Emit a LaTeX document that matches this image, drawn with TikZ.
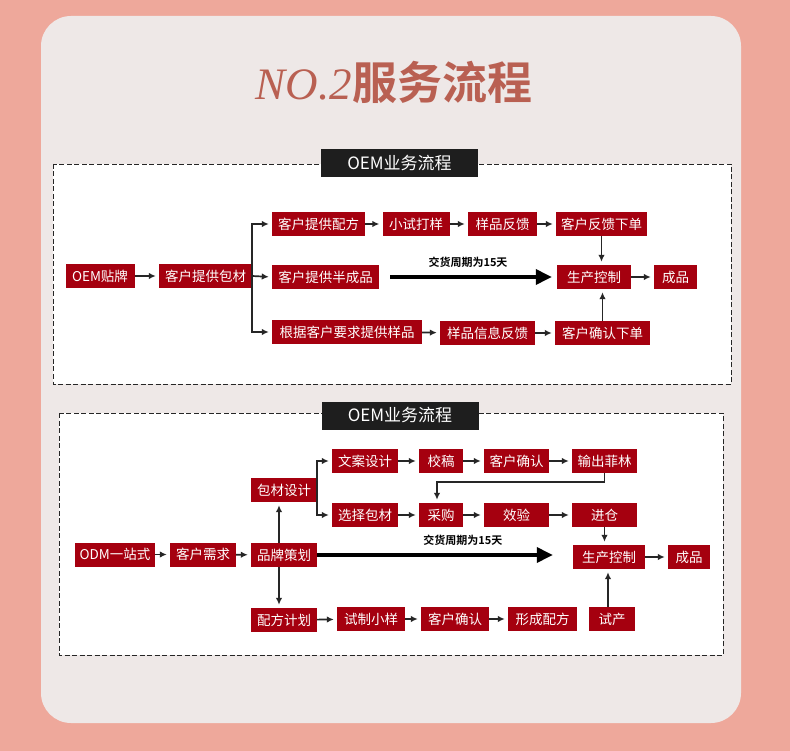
\documentclass[tikz,border=0pt]{standalone}
\usepackage{fontspec}
\usepackage{xcolor}
\setmainfont{Noto Sans CJK SC}[BoldFont={Noto Sans CJK SC Bold}]
\newfontfamily\romanit{Liberation Serif}
\usetikzlibrary{arrows.meta}
\definecolor{bgpink}{HTML}{EEA89B}
\definecolor{cardgrey}{HTML}{EEE8E7}
\definecolor{boxred}{HTML}{A5000F}
\definecolor{titlered}{HTML}{B96052}
\definecolor{tabblack}{HTML}{1E1E1E}

\begin{document}
\begin{tikzpicture}[x=1pt, y=-1pt,
  box/.style={fill=boxred, text=white, inner sep=0pt, minimum height=24pt, minimum width=#1,
    font=\fontsize{13.5}{14}\selectfont},
  box/.default=66pt,
  ln/.style={line width=1.7pt, draw=black!85, -{Latex[length=7pt,width=6.5pt]}, shorten >=3pt},
  big/.style={line width=3.5pt, -{Triangle[length=16pt,width=15pt]}},
  panel/.style={draw=black!85, line width=0.9pt, dash pattern=on 5pt off 2.5pt, fill=white},
  tab/.style={fill=tabblack, text=white, inner sep=0pt, minimum width=157pt, minimum height=28pt,
    font=\fontsize{17}{18}\selectfont},
  days/.style={font=\bfseries\fontsize{11}{12}\selectfont, above=4pt}]
  \fill[bgpink] (0,0) rectangle (790,751);
  \fill[cardgrey, rounded corners=30pt] (41,16) rectangle (741,723);
  \node[text=titlered, font=\fontsize{45}{50}\selectfont] (T) at (394,82)
    {{\romanit\itshape NO.2}{\bfseries 服务流程}};

  % OEM
  \draw[panel] (53,164) rectangle (731,384);
  \node[tab] (T1) at (399.5,163) {OEM业务流程};
  \node[box=69pt] (OEM) at (100,276) {OEM贴牌};
  \node[box=93pt] (BC) at (205.5,276) {客户提供包材};
  \node[box=93pt] (PF) at (318.5,224) {客户提供配方};
  \node[box=107pt] (BCP) at (325.5,277) {客户提供半成品};
  \node[box=150pt] (YP) at (347,332) {根据客户要求提供样品};
  \node[box=67pt] (XS) at (416,224) {小试打样};
  \node[box=69pt] (FK) at (502.5,224) {样品反馈};
  \node[box=91pt] (XD) at (601.5,224) {客户反馈下单};
  \node[box=74pt] (SC) at (594,277) {生产控制};
  \node[box=43pt] (CP) at (675.5,277) {成品};
  \node[box=95pt] (XX) at (487.5,333) {样品信息反馈};
  \node[box=95pt] (QR) at (602.5,333) {客户确认下单};
  \draw[ln] (OEM) -- (BC);
  \draw[ln] (BC.east) |- (PF.west);
  \draw[ln] (BC.east) -- (BCP.west);
  \draw[ln] (BC.east) |- (YP.west);
  \draw[ln] (PF) -- (XS);
  \draw[ln] (XS) -- (FK);
  \draw[ln] (FK) -- (XD);
  \draw[big, shorten <=11pt, shorten >=5pt] (BCP.east) -- node[days] (D1) {交货周期为15天} (SC.west);
  \draw[ln] (XD.south) -- (XD.south |- SC.north);
  \draw[ln] (YP) -- (XX);
  \draw[ln] (XX) -- (QR);
  \draw[ln] (QR.north) -- (QR.north |- SC.south);
  \draw[ln] (SC) -- (CP);

  % ODM
  \draw[panel] (59,413) rectangle (723,655);
  \node[tab] (T2) at (400,415.5) {OEM业务流程};
  \node[box=80pt] (ODM) at (115,554.5) {ODM一站式};
  \node[box] (XQ) at (203,554.5) {客户需求};
  \node[box] (PP) at (284,555) {品牌策划};
  \node[box] (BD) at (284,490) {包材设计};
  \node[box] (PJ) at (284,620) {配方计划};
  \node[box] (WA) at (365,461) {文案设计};
  \node[box] (XZ) at (365,515) {选择包材};
  \node[box=44pt] (JG) at (441,461) {校稿};
  \node[box=65pt] (QR1) at (516.5,461) {客户确认};
  \node[box=65pt] (FL) at (604.5,461) {输出菲林};
  \node[box=44pt] (CG) at (441,515) {采购};
  \node[box=65pt] (XY) at (516.5,515) {效验};
  \node[box=65pt] (JC) at (604.5,515) {进仓};
  \node[box=72pt] (SC2) at (609,557) {生产控制};
  \node[box=42pt] (CP2) at (689,557) {成品};
  \node[box=68pt] (ZY) at (371,619) {试制小样};
  \node[box=68pt] (QR2) at (455,619) {客户确认};
  \node[box=69pt] (XC) at (542.5,619) {形成配方};
  \node[box=46pt] (SCH) at (612,619) {试产};
  \draw[ln] (ODM) -- (XQ);
  \draw[ln] (XQ) -- (PP);
  \draw[ln] ([xshift=-5pt]PP.north) -- ([xshift=-5pt]BD.south);
  \draw[ln] ([xshift=-5pt]PP.south) -- ([xshift=-5pt]PJ.north);
  \draw[ln] (BD.east) |- (WA.west);
  \draw[ln] (BD.east) |- (XZ.west);
  \draw[ln] (WA) -- (JG);
  \draw[ln] (JG) -- (QR1);
  \draw[ln] (QR1) -- (FL);
  \draw[ln] (FL.south) -- ++(0,9) -| ([xshift=-4pt]CG.north);
  \draw[ln] (XZ) -- (CG);
  \draw[ln] (CG) -- (XY);
  \draw[ln] (XY) -- (JC);
  \draw[ln] (JC.south) -- (JC.south |- SC2.north);
  \draw[big, shorten >=20pt] (PP.east) -- node[days, pos=0.57] (D2) {交货周期为15天} (PP.east -| SC2.west);
  \draw[ln] (SC2) -- (CP2);
  \draw[ln] (PJ) -- (ZY);
  \draw[ln] (ZY) -- (QR2);
  \draw[ln] (QR2) -- (XC);
  \draw[ln] ([xshift=-4pt]SCH.north) -- ([xshift=-4pt]SCH.north |- SC2.south);
\end{tikzpicture}
\end{document}
